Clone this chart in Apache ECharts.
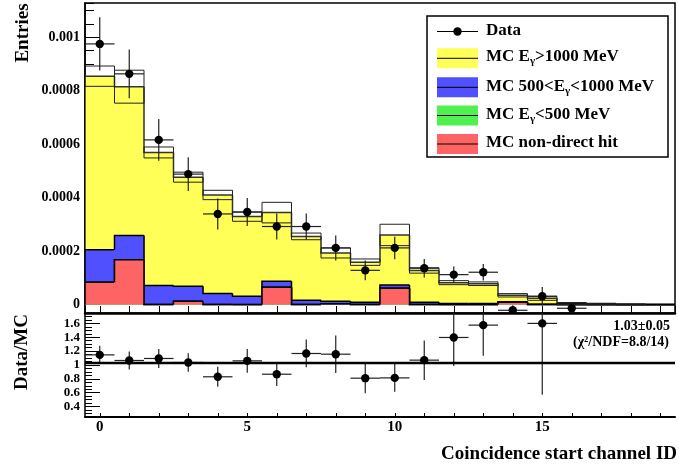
<!DOCTYPE html>
<html>
<head>
<meta charset="utf-8">
<script src="https://cdn.jsdelivr.net/npm/echarts@6/dist/echarts.min.js"></script>
<style>
html, body { margin: 0; padding: 0; background: #fff; }
#chart { width: 679px; height: 467px; }
</style>
</head>
<body>
<div id="chart"></div>
<script>
// bins: coincidence start channel ID
const channels = [0,1,2,3,4,5,6,7,8,9,10,11,12,13,14,15,16,17,18,19];

// MC components (not stacked)
const mcHigh      = [0.000649,0.000557,0.000498,0.000408,0.000369,0.000298,0.000257,0.000239,0.000181,0.000150,0.000187,0.000119,0.000078,0.000074,0.000024,0.0000225,0.000004,0.000003,0.000001,0];
const mcMid       = [0.000122,0.000090,0.000071,0.000056,0.000041,0.000031,0.000022,0.000016,0.000009,0.0000086,0.0000125,0.0000086,0.000004,0.000004,0.000002,0.000001,0,0,0,0];
const mcLow       = [0,0,0,0,0,0,0,0,0,0,0,0,0,0,0,0,0,0,0,0];
const mcNonDirect = [0.0000833,0.000168,0,0.0000125,0,0,0.000065,0,0.000003,0,0.000061,0,0,0,0.0000087,0,0,0,0,0];
const mcStatErr   = [0.000038,0.0000616,0.0000205,0.0000187,0.0000175,0.0000175,0.0000385,0.0000125,0.0000187,0.000012,0.00004,0.00001,0.0000075,0.0000068,0.0000063,0.0000075,0.0000037,0.000002,0.000001,0];

// data
const dataEntries = [0.000975,0.000863,0.000616,0.000488,0.000339,0.000346,0.000292,0.000292,0.000212,0.000128,0.000212,0.000136,0.000112,0.000121,-0.0000213,0.000031,-0.0000138];
const dataErr     = [0.0000997,0.0000915,0.0000785,0.0000635,0.000058,0.0000525,0.0000485,0.0000485,0.0000467,0.0000367,0.000042,0.0000343,0.00003,0.000031,0.0000187,0.0000343,0.0000175];

// Data/MC
const ratioValues = [1.146,1.065,1.094,1.036,0.83,1.06,0.867,1.166,1.156,0.81,0.814,1.07,1.397,1.575,null,1.6,null];
const ratioErr    = [0.13,0.13,0.137,0.135,0.145,0.17,0.17,0.2,0.27,0.217,0.2,0.285,0.41,0.44,null,1.03,null];
const fitValue = 1.03;
const fitText = ['1.03\u00b10.05', '(\u03c7\u00b2/NDF=8.8/14)'];
const ratioXLabels = [0, 5, 10, 15];

const FONT = 'Liberation Serif';
const colHigh = '#ffff58', colMid = '#5050ff', colLow = '#50f050', colNonDirect = '#ff6464';

// cumulative stacks (bottom: non-direct, low, mid, high)
const cumNonDirect = channels.map(i => mcNonDirect[i]);
const cumLow = channels.map(i => cumNonDirect[i] + mcLow[i]);
const cumMid = channels.map(i => cumLow[i] + mcMid[i]);
const cumHigh = channels.map(i => cumMid[i] + mcHigh[i]);

function histData(cum) {
    return channels.map(i => [i, cum[i], i > 0 ? cum[i - 1] : 0]);
}

function histRender(color, lineColor) {
    return function (params, api) {
        const i = api.value(0), top = api.value(1), prev = api.value(2);
        const p0 = api.coord([i - 0.5, top]);
        const p1 = api.coord([i + 0.5, 0]);
        const pPrev = api.coord([i - 0.5, prev]);
        return {
            type: 'group',
            children: [
                // a little overlap so neighbouring bins have no seam
                {type: 'rect', shape: {x: p0[0] - 0.4, y: p0[1], width: p1[0] - p0[0] + 0.8, height: p1[1] - p0[1]},
                    style: {fill: color}},
                {type: 'polyline', shape: {points: [pPrev, p0, [p1[0], p0[1]]]}, style: {stroke: lineColor, lineWidth: 1.5, fill: null}}
            ]
        };
    };
}

function errBoxRender(params, api) {
    const i = api.value(0), v = api.value(1), e = api.value(2);
    const a = api.coord([i - 0.5, v + e]);
    const b = api.coord([i + 0.5, v - e]);
    return {type: 'rect', shape: {x: a[0], y: a[1], width: b[0] - a[0], height: Math.max(b[1] - a[1], 1)},
        style: {fill: null, stroke: '#222', lineWidth: 1}};
}

function pointRender(params, api) {
    const x = api.value(0), y = api.value(1), e = api.value(2);
    const c = api.coord([x, y]);
    const l = api.coord([x - 0.5, y]);
    const r = api.coord([x + 0.5, y]);
    const lo = api.coord([x, y - e]);
    const hi = api.coord([x, y + e]);
    return {
        type: 'group',
        children: [
            {type: 'line', shape: {x1: l[0], y1: c[1], x2: r[0], y2: c[1]}, style: {stroke: '#222', lineWidth: 1.2}},
            {type: 'line', shape: {x1: c[0], y1: lo[1], x2: c[0], y2: hi[1]}, style: {stroke: '#222', lineWidth: 1.2}},
            {type: 'circle', shape: {cx: c[0], cy: c[1], r: 4.2}, style: {fill: '#000'}}
        ]
    };
}

const dataPoints = dataEntries.map((v, i) => [i, v, dataErr[i]]);
const ratioPoints = ratioValues.map((v, i) => [i, v, ratioErr[i]]).filter(d => d[1] !== null);
const errBoxes = channels.map(i => [i, cumHigh[i], mcStatErr[i]]).filter(d => d[1] > 0);

const labelStyle = {color: '#000', fontFamily: FONT, fontWeight: 'bold'};

const chart = echarts.init(document.getElementById('chart'), null, {renderer: 'canvas'});

function legendRow(y, color) {
    return [
        {type: 'rect', shape: {x: 437, y: y - 10, width: 41, height: 20}, style: {fill: color}},
        {type: 'line', shape: {x1: 437, y1: y, x2: 478, y2: y}, style: {stroke: '#000', lineWidth: 1}}
    ];
}
function legendText(y, text) {
    return {type: 'text', x: 486, y: y, style: {
        text: text, fill: '#000', font: 'bold 17px ' + FONT, verticalAlign: 'middle',
        rich: {
            s: {fontSize: 11, fontFamily: FONT, fontWeight: 'bold', padding: [9, 0, 0, 0]}
        }
    }};
}

const option = {
    animation: false,
    backgroundColor: '#fff',
    grid: [
        {left: 85, right: 4, top: 3, height: 310, show: true, borderColor: '#000', borderWidth: 1.5, backgroundColor: 'transparent'},
        {left: 85, right: 4, top: 313, height: 104}
    ],
    xAxis: [
        {gridIndex: 0, type: 'value', min: -0.5, max: 19.5, splitNumber: 20,
            axisLine: {show: true, onZero: false, lineStyle: {color: '#000', width: 2.5}},
            axisTick: {show: true, inside: true, length: 7, lineStyle: {color: '#000', width: 1}},
            axisLabel: {show: false}, splitLine: {show: false}},
        {gridIndex: 1, type: 'value', min: -0.5, max: 19.5, splitNumber: 20,
            axisLine: {show: true, onZero: false, lineStyle: {color: '#000', width: 2}},
            axisTick: {show: true, inside: true, length: 4, lineStyle: {color: '#000', width: 1}},
            axisLabel: Object.assign({fontSize: 15, margin: 3, showMinLabel: false, showMaxLabel: false,
                formatter: v => ratioXLabels.indexOf(v) >= 0 ? String(v) : ''}, labelStyle),
            splitLine: {show: false}}
    ],
    yAxis: [
        {gridIndex: 0, type: 'value', position: 'left', min: -0.0000315, max: 0.001128, splitNumber: 5,
            axisLine: {show: true, onZero: false, lineStyle: {color: '#000', width: 1.5}},
            axisTick: {show: true, inside: true, length: 15, lineStyle: {color: '#000', width: 1}},
            axisLabel: Object.assign({fontSize: 14, margin: 5, showMinLabel: false, showMaxLabel: false,
                formatter: v => String(+v.toPrecision(4))}, labelStyle),
            splitLine: {show: false}},
        {gridIndex: 0, type: 'value', position: 'left', min: -0.0000315, max: 0.001128, splitNumber: 23,
            axisLine: {show: false, onZero: false},
            axisTick: {show: true, inside: true, length: 9, lineStyle: {color: '#000', width: 1}},
            axisLabel: {show: false}, splitLine: {show: false}},
        {gridIndex: 1, type: 'value', position: 'left', min: 0.25, max: 1.75, splitNumber: 7,
            axisLine: {show: true, onZero: false, lineStyle: {color: '#000', width: 1.5}},
            axisTick: {show: true, inside: true, length: 15, lineStyle: {color: '#000', width: 1}},
            axisLabel: Object.assign({fontSize: 13, margin: 5, showMinLabel: false, showMaxLabel: false,
                formatter: v => String(+v.toFixed(1))}, labelStyle),
            splitLine: {show: false}},
        {gridIndex: 1, type: 'value', position: 'left', min: 0.25, max: 1.75, splitNumber: 30,
            axisLine: {show: false, onZero: false},
            axisTick: {show: true, inside: true, length: 7, lineStyle: {color: '#000', width: 1}},
            axisLabel: {show: false}, splitLine: {show: false}}
    ],
    series: [
        {type: 'custom', xAxisIndex: 0, yAxisIndex: 0, clip: true, silent: true,
            data: histData(cumHigh), renderItem: histRender(colHigh, '#333')},
        {type: 'custom', xAxisIndex: 0, yAxisIndex: 0, clip: true, silent: true,
            data: histData(cumMid), renderItem: histRender(colMid, '#000')},
        {type: 'custom', xAxisIndex: 0, yAxisIndex: 0, clip: true, silent: true,
            data: histData(cumLow), renderItem: histRender(colLow, '#000')},
        {type: 'custom', xAxisIndex: 0, yAxisIndex: 0, clip: true, silent: true,
            data: histData(cumNonDirect), renderItem: histRender(colNonDirect, '#000')},
        {type: 'custom', xAxisIndex: 0, yAxisIndex: 0, clip: true, silent: true,
            data: errBoxes, renderItem: errBoxRender},
        {type: 'custom', xAxisIndex: 0, yAxisIndex: 0, clip: true, silent: true,
            data: dataPoints, renderItem: pointRender},
        {type: 'line', xAxisIndex: 1, yAxisIndex: 2, silent: true, symbol: 'none',
            data: [[-0.5, fitValue], [19.5, fitValue]], lineStyle: {color: '#000', width: 2.5}},
        {type: 'custom', xAxisIndex: 1, yAxisIndex: 2, clip: true, silent: true,
            data: ratioPoints, renderItem: pointRender}
    ],
    graphic: [
        {type: 'text', x: 23, y: 33, rotation: Math.PI / 2, style: {text: 'Entries', fill: '#000',
            font: 'bold 19px ' + FONT, align: 'center', verticalAlign: 'middle'}},
        {type: 'text', x: 22, y: 352, rotation: Math.PI / 2, style: {text: 'Data/MC', fill: '#000',
            font: 'bold 19px ' + FONT, align: 'center', verticalAlign: 'middle'}},
        {type: 'text', x: 677, y: 454, style: {text: 'Coincidence start channel ID', fill: '#000',
            font: 'bold 19px ' + FONT, align: 'right', verticalAlign: 'middle'}},
        {type: 'text', x: 670, y: 326, style: {text: fitText[0], fill: '#000',
            font: 'bold 14px ' + FONT, align: 'right', verticalAlign: 'middle'}},
        {type: 'text', x: 669, y: 342, style: {text: fitText[1], fill: '#000',
            font: 'bold 14px ' + FONT, align: 'right', verticalAlign: 'middle'}},
        {type: 'group', children: [
            {type: 'rect', shape: {x: 427, y: 16, width: 241, height: 141}, style: {fill: '#fff', stroke: '#000', lineWidth: 1.5}},
            {type: 'line', shape: {x1: 437, y1: 31.5, x2: 478, y2: 31.5}, style: {stroke: '#000', lineWidth: 1}},
            {type: 'circle', shape: {cx: 457.5, cy: 31.5, r: 4.2}, style: {fill: '#000'}},
            {type: 'text', x: 486, y: 31, style: {text: 'Data', fill: '#000', font: 'bold 17px ' + FONT, verticalAlign: 'middle'}},
            ...legendRow(58.3, colHigh),
            legendText(57, 'MC E{s|\u03b3}>1000 MeV'),
            ...legendRow(87.3, colMid),
            legendText(86.5, 'MC 500<E{s|\u03b3}<1000 MeV'),
            ...legendRow(115.5, colLow),
            legendText(114.5, 'MC E{s|\u03b3}<500 MeV'),
            ...legendRow(144, colNonDirect),
            {type: 'text', x: 486, y: 142.5, style: {text: 'MC non-direct hit', fill: '#000', font: 'bold 17px ' + FONT, verticalAlign: 'middle'}}
        ]}
    ]
};
chart.setOption(option);
</script>
</body>
</html>
